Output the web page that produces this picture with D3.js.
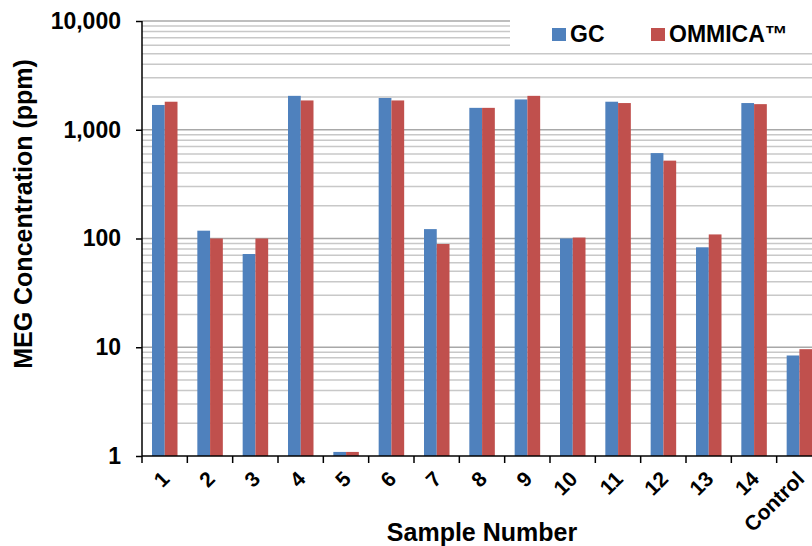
<!DOCTYPE html>
<html>
<head>
<meta charset="utf-8">
<script src="https://cdn.jsdelivr.net/npm/d3@7"></script>
<style>
  body { margin: 0; background: #fff; }
  svg { font-family: "Liberation Sans", Arial, sans-serif; font-weight: bold; }
</style>
</head>
<body>
<div id="chart"></div>
<script>
// data
var categories = ["1", "2", "3", "4", "5", "6", "7", "8", "9", "10", "11", "12", "13", "14", "Control"];
var seriesNames = ["GC", "OMMICA\u2122"];
var gcValues     = [1690, 118, 72, 2050, 1.09, 1960, 122, 1590, 1900, 100, 1810, 610, 83, 1760, 8.4];
var ommicaValues = [1810, 100, 100, 1860, 1.09, 1860, 89, 1590, 2050, 102, 1760, 520, 109, 1720, 9.6];
var yTickValues  = [1, 10, 100, 1000, 10000];
var colors = ["#4F81BD", "#C0504D"];

var margin = {top: 21, right: -10, bottom: 90, left: 142},
    W = 812, H = 546,
    width = W - margin.left - margin.right,
    height = H - margin.top - margin.bottom;

var svg = d3.select("#chart").append("svg")
    .attr("width", W)
    .attr("height", H);

var g = svg.append("g")
    .attr("transform", "translate(" + margin.left + "," + margin.top + ")");

var xScale = d3.scaleBand().domain(categories).range([0, width]);
var xInner = d3.scaleBand().domain(seriesNames).range([10, 35.5]);
var yScale = d3.scaleLog().domain([1, 10000]).range([height, 0]);

// minor + major grid lines
var gridVals = [];
[1, 10, 100, 1000].forEach(function(d) {
    for (var k = 1; k <= 10; k++) { gridVals.push(d * k); }
});
gridVals = Array.from(new Set(gridVals)).filter(function(v) { return v > 1; });

g.append("g").selectAll("line")
    .data(gridVals)
    .enter().append("line")
    .attr("x1", 0)
    .attr("x2", width)
    .attr("y1", function(d) { return yScale(d); })
    .attr("y2", function(d) { return yScale(d); })
    .style("stroke", function(d) { return yTickValues.indexOf(d) >= 0 ? "#a8a8a8" : "#c8c8c8"; })
    .style("stroke-width", 1.5);

// bars
var rows = categories.map(function(c, i) {
    return {cat: c, vals: [gcValues[i], ommicaValues[i]]};
});

var groups = g.selectAll(".grp")
    .data(rows)
    .enter().append("g")
    .attr("class", "grp")
    .attr("transform", function(d) { return "translate(" + xScale(d.cat) + ",0)"; });

groups.selectAll("rect")
    .data(function(d) { return d.vals.map(function(v, j) { return {name: seriesNames[j], v: v, j: j}; }); })
    .enter().append("rect")
    .attr("x", function(d) { return xInner(d.name); })
    .attr("width", xInner.bandwidth())
    .attr("y", function(d) { return yScale(d.v); })
    .attr("height", function(d) { return height - yScale(d.v); })
    .style("fill", function(d) { return colors[d.j]; });

// y axis
var yAxis = d3.axisLeft(yScale)
    .tickValues(yTickValues)
    .tickFormat(d3.format(","))
    .tickSize(6)
    .tickPadding(15);
var yA = g.append("g").attr("class", "y axis").call(yAxis);
yA.select(".domain").remove();
yA.append("line").attr("x1", 0).attr("x2", 0).attr("y1", 0).attr("y2", height)
    .style("stroke", "#000").style("stroke-width", 1.5);
yA.selectAll(".tick line").style("stroke", "#000").style("stroke-width", 1.5);
yA.selectAll("text")
    .style("font-size", "23px")
    .style("font-weight", "bold")
    .style("font-family", "Liberation Sans, Arial, sans-serif")
    .attr("fill", "#000");

// x axis
var xA = g.append("g").attr("class", "x axis")
    .attr("transform", "translate(0," + height + ")");
xA.append("line").attr("x1", 0).attr("x2", width).attr("y1", 0).attr("y2", 0)
    .style("stroke", "#000").style("stroke-width", 1.5);
xA.selectAll(".xtick")
    .data(categories)
    .enter().append("line")
    .attr("x1", function(d) { return xScale(d); })
    .attr("x2", function(d) { return xScale(d); })
    .attr("y1", 0).attr("y2", 7)
    .style("stroke", "#000").style("stroke-width", 1.5);
xA.selectAll(".xlab")
    .data(categories)
    .enter().append("text")
    .attr("class", "xlab")
    .attr("transform", function(d) {
        return "translate(" + (xScale(d) + xScale.bandwidth() / 2 + 1) + ",19) rotate(-45)";
    })
    .attr("dy", "0.35em")
    .style("text-anchor", "end")
    .style("font-size", "21px")
    .text(function(d) { return d; });

// axis titles
svg.append("text")
    .attr("x", 482)
    .attr("y", 541)
    .style("text-anchor", "middle")
    .style("font-size", "25px")
    .text("Sample Number");

svg.append("text")
    .attr("transform", "translate(32,214) rotate(-90)")
    .style("text-anchor", "middle")
    .style("font-size", "25px")
    .text("MEG Concentration (ppm)");

// legend
var legend = svg.append("g");
legend.append("rect")
    .attr("x", 510).attr("y", 0)
    .attr("width", W - 510).attr("height", 48)
    .style("fill", "#fff");
var legX = [552, 651];
seriesNames.forEach(function(name, i) {
    legend.append("rect")
        .attr("x", legX[i]).attr("y", 28)
        .attr("width", 14).attr("height", 13)
        .style("fill", colors[i]);
    legend.append("text")
        .attr("x", legX[i] + 18).attr("y", 42)
        .style("font-size", "23px")
        .text(name);
});
</script>
</body>
</html>
